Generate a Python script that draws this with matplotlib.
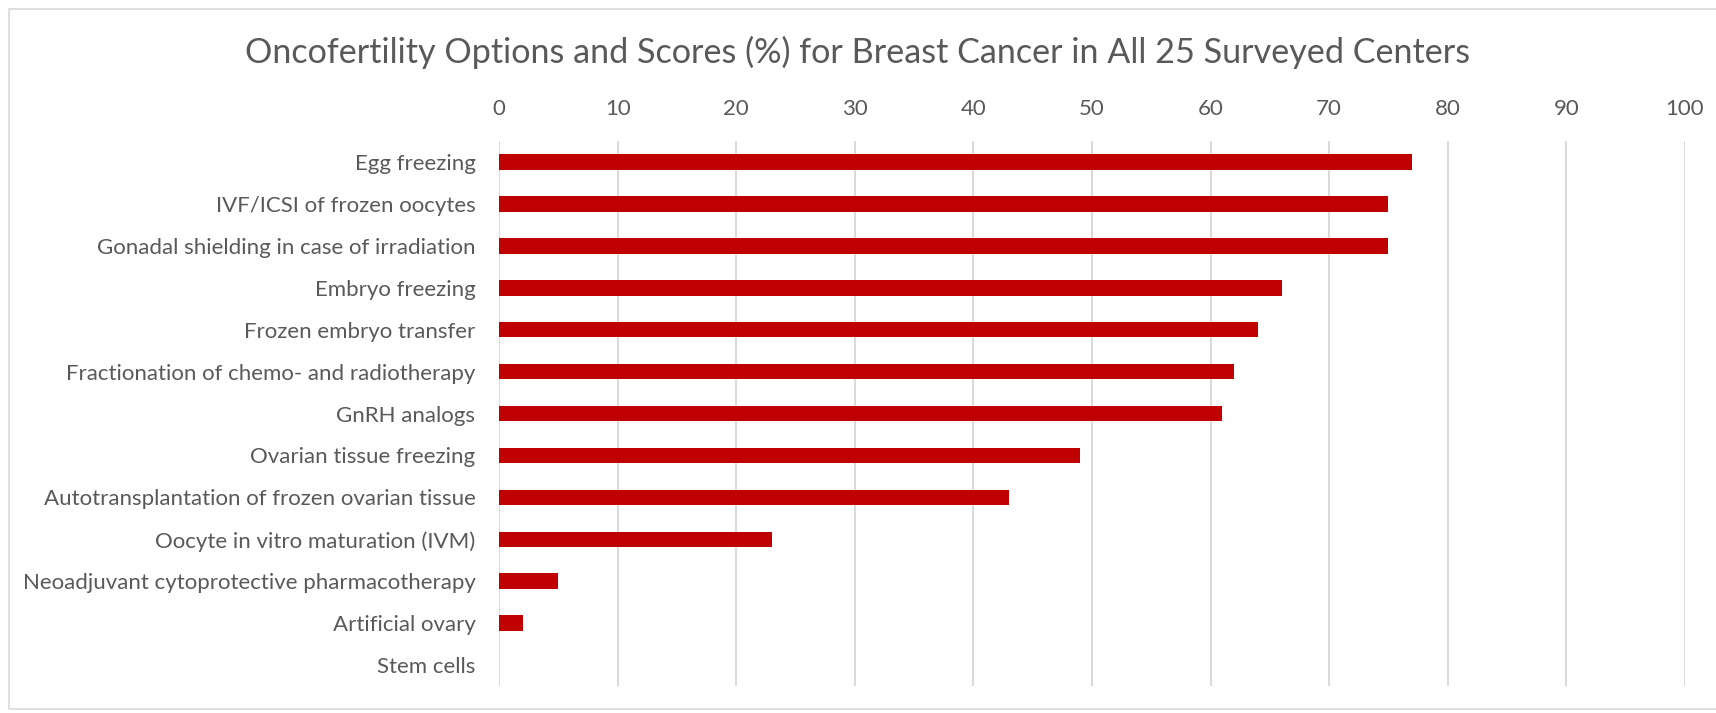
import matplotlib.pyplot as plt
from matplotlib.patches import Rectangle

# Oncofertility options (top to bottom as shown) and scores in %
options = [
    "Egg freezing",
    "IVF/ICSI of frozen oocytes",
    "Gonadal shielding in case of irradiation",
    "Embryo freezing",
    "Frozen embryo transfer",
    "Fractionation of chemo- and radiotherapy",
    "GnRH analogs",
    "Ovarian tissue freezing",
    "Autotransplantation of frozen ovarian tissue",
    "Oocyte in vitro maturation (IVM)",
    "Neoadjuvant cytoprotective pharmacotherapy",
    "Artificial ovary",
    "Stem cells",
]
scores = [77, 75, 75, 66, 64, 62, 61, 49, 43, 23, 5, 2, 0]
x_ticks = list(range(0, 101, 10))

plt.rcParams['font.family'] = ['Lato', 'DejaVu Sans']
text_color = '#595959'

fig = plt.figure(figsize=(17.16, 7.13), dpi=100)
ax = fig.add_axes([0.2908, 0.0379, 0.9819 - 0.2908, 0.8022 - 0.0379])

# light frame around the chart area, like the Excel chart border
fig.patches.append(Rectangle((9 / 1716, 4 / 713), 1.2, 1 - 13 / 713,
                             transform=fig.transFigure, fill=False,
                             edgecolor='#d9d9d9', linewidth=1.2))

y = list(range(len(options)))
ax.barh(y, scores, height=0.37, color='#c00000', linewidth=0, zorder=3)

ax.set_xlim(0, 100)
ax.set_ylim(len(options) - 0.5, -0.5)
ax.set_xticks(x_ticks)
ax.set_yticks(y)
ax.set_yticklabels(options)
ax.xaxis.tick_top()
ax.tick_params(axis='x', length=0, pad=16, labelsize=16, labelcolor=text_color)
ax.tick_params(axis='y', length=0, pad=17, labelsize=16, labelcolor=text_color)
ax.grid(axis='x', color='#d9d9d9', linewidth=1.4, zorder=0)
for s in ax.spines.values():
    s.set_visible(False)

fig.text(0.5, 1 - 52 / 713, "Oncofertility Options and Scores (%) for Breast Cancer in All 25 Surveyed Centers",
         ha='center', va='center', fontsize=24.6, color=text_color)

fig.savefig("out.png", dpi=100)
